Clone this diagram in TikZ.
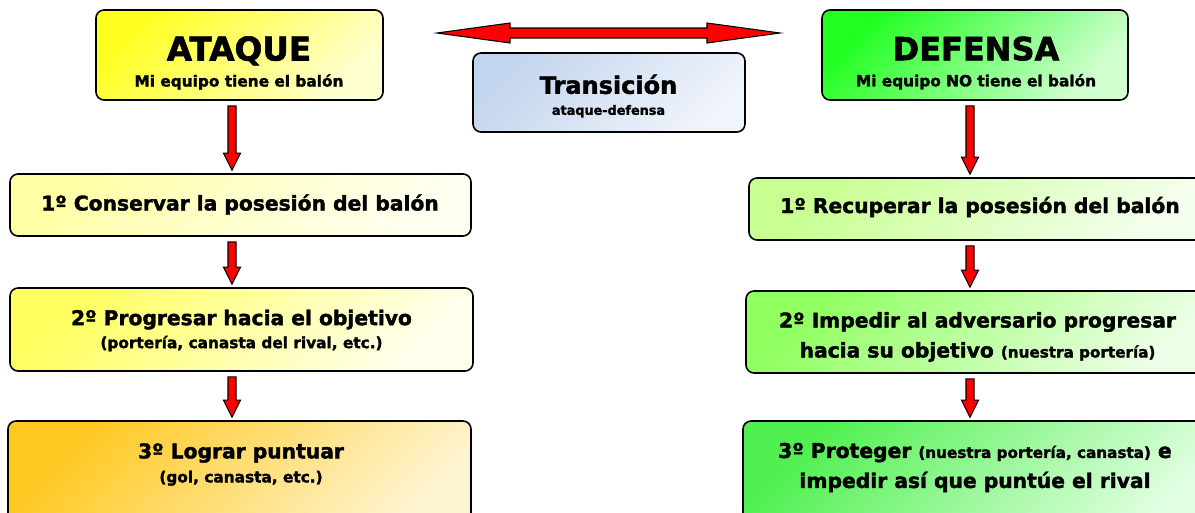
\documentclass[tikz,border=0pt]{standalone}
\usepackage{fontspec}
\setmainfont{DejaVu Sans}[BoldFeatures={FakeBold=1.8}]
\usetikzlibrary{calc}

\def\px{0.75pt}

\definecolor{ataqueA}{HTML}{FFFF20}
\definecolor{ataqueB}{HTML}{FFFFD0}
\definecolor{transA}{HTML}{C3D5EE}
\definecolor{transB}{HTML}{F0F4FB}
\definecolor{defensaA}{HTML}{20FF20}
\definecolor{defensaB}{HTML}{D0FFD0}
\definecolor{conservarA}{HTML}{FFFFA8}
\definecolor{conservarB}{HTML}{FFFFF0}
\definecolor{progresarA}{HTML}{FFFF60}
\definecolor{progresarB}{HTML}{FFFFEC}
\definecolor{puntuarA}{HTML}{FFC820}
\definecolor{puntuarB}{HTML}{FFF4D0}
\definecolor{recuperarA}{HTML}{C8FF90}
\definecolor{recuperarB}{HTML}{F4FFEE}
\definecolor{impedirA}{HTML}{90FF60}
\definecolor{impedirB}{HTML}{ECFFE6}
\definecolor{protegerA}{HTML}{50F050}
\definecolor{protegerB}{HTML}{E0FFE0}

\tikzset{
  caja/.style 2 args={draw=black, line width=1.2pt, rounded corners=6pt,
    top color=#1, bottom color=#2, shading angle=45, inner sep=0pt},
  texto/.style={align=center, inner sep=0pt,
    font=\bfseries\fontsize{15.2}{22.5}\selectfont},
  flecha/.style={draw=black, line width=0.8pt, fill=red, line join=miter},
}

% red block arrow going down from #1 to #2, at column #3
\newcommand\bajada[3]{%
  \path[flecha] let \p1=($(#1.south)+(0,5)$), \p2=($(#2.north)+(0,-3)$), \p3=(#3,0) in
    (\x3-3pt,\y1) -- (\x3+3pt,\y1) -- (\x3+3pt,\y2+12.75pt) -- (\x3+6.4pt,\y2+12.75pt)
    -- (\x3,\y2) -- (\x3-6.4pt,\y2+12.75pt) -- (\x3-3pt,\y2+12.75pt) -- cycle;}

\begin{document}
\begin{tikzpicture}[x=\px, y=-\px]
  \useasboundingbox (0,0) rectangle (1195,512);
  \clip (0,0) rectangle (1195,512);

  % headers
  \node[caja={ataqueA}{ataqueB}, minimum width=287*\px, minimum height=90*\px] (ataque) at (239.5,55) {};
  \node[caja={transA}{transB}, minimum width=272*\px, minimum height=79*\px] (trans) at (609,92.5) {};
  \node[caja={defensaA}{defensaB}, minimum width=306*\px, minimum height=90*\px] (defensa) at (975,55) {};

  % left column
  \node[caja={conservarA}{conservarB}, minimum width=461*\px, minimum height=62*\px] (conservar) at (240.5,205) {};
  \node[caja={progresarA}{progresarB}, minimum width=463*\px, minimum height=83*\px] (progresar) at (241.5,329.5) {};
  \node[caja={puntuarA}{puntuarB}, minimum width=463*\px, minimum height=110*\px] (puntuar) at (239.5,476) {};

  % right column
  \node[caja={recuperarA}{recuperarB}, minimum width=470*\px, minimum height=62*\px] (recuperar) at (984,209) {};
  \node[caja={impedirA}{impedirB}, minimum width=474*\px, minimum height=82*\px] (impedir) at (983,332) {};
  \node[caja={protegerA}{protegerB}, minimum width=476*\px, minimum height=110*\px] (proteger) at (981,476) {};

  % texts
  \node[texto, font=\bfseries\fontsize{24.5}{19.5}\selectfont] (ataque-t) at (239,63)
    {ATAQUE\\{\fontsize{11.5}{19.5}\selectfont Mi equipo tiene el balón}};
  \node[texto, font=\bfseries\fontsize{18}{15.75}\selectfont] (trans-t) at (608.5,96)
    {Transición\\{\fontsize{9.6}{15.75}\selectfont ataque-defensa}};
  \node[texto, font=\bfseries\fontsize{24}{19.5}\selectfont] (defensa-t) at (976,63)
    {DEFENSA\\{\fontsize{11.5}{19.5}\selectfont Mi equipo NO tiene el balón}};

  \node[texto] (conservar-t) at (240,204.5) {1º Conservar la posesión del balón};
  \node[texto, font=\bfseries\fontsize{15.2}{17.25}\selectfont] (progresar-t) at (241.5,330.5)
    {2º Progresar hacia el objetivo\\{\fontsize{11.5}{17.25}\selectfont (portería, canasta del rival, etc.)}};
  \node[texto, font=\bfseries\fontsize{15.2}{18}\selectfont] (puntuar-t) at (241,464.5)
    {3º Lograr puntuar\\{\fontsize{11.5}{18}\selectfont (gol, canasta, etc.)}};

  \node[texto] (recuperar-t) at (980,207) {1º Recuperar la posesión del balón};
  \node[texto] (impedir-t) at (977.5,337)
    {2º Impedir al adversario progresar\\hacia su objetivo {\fontsize{11.4}{22.5}\selectfont (nuestra portería)}};
  \node[texto] (proteger-t) at (975,467.5)
    {3º Proteger {\fontsize{11.4}{22.5}\selectfont (nuestra portería, canasta)} e\\impedir así que puntúe el rival};

  % arrows
  \coordinate (ida) at (437,33);
  \coordinate (vuelta) at (780,33);
  \path[flecha] let \p1=(ida), \p2=(vuelta) in
    (\p1) -- (\x1+54.75pt,\y1+7.5pt) -- (\x1+54.75pt,\y1+3.75pt) -- (\x2-54.75pt,\y1+3.75pt)
    -- (\x2-54.75pt,\y1+7.5pt) -- (\p2) -- (\x2-54.75pt,\y1-7.5pt) -- (\x2-54.75pt,\y1-3.75pt)
    -- (\x1+54.75pt,\y1-3.75pt) -- (\x1+54.75pt,\y1-7.5pt) -- cycle;

  \bajada{ataque}{conservar}{232}
  \bajada{conservar}{progresar}{232}
  \bajada{progresar}{puntuar}{232}
  \bajada{defensa}{recuperar}{970}
  \bajada{recuperar}{impedir}{970}
  \bajada{impedir}{proteger}{970}

\end{tikzpicture}
\end{document}
